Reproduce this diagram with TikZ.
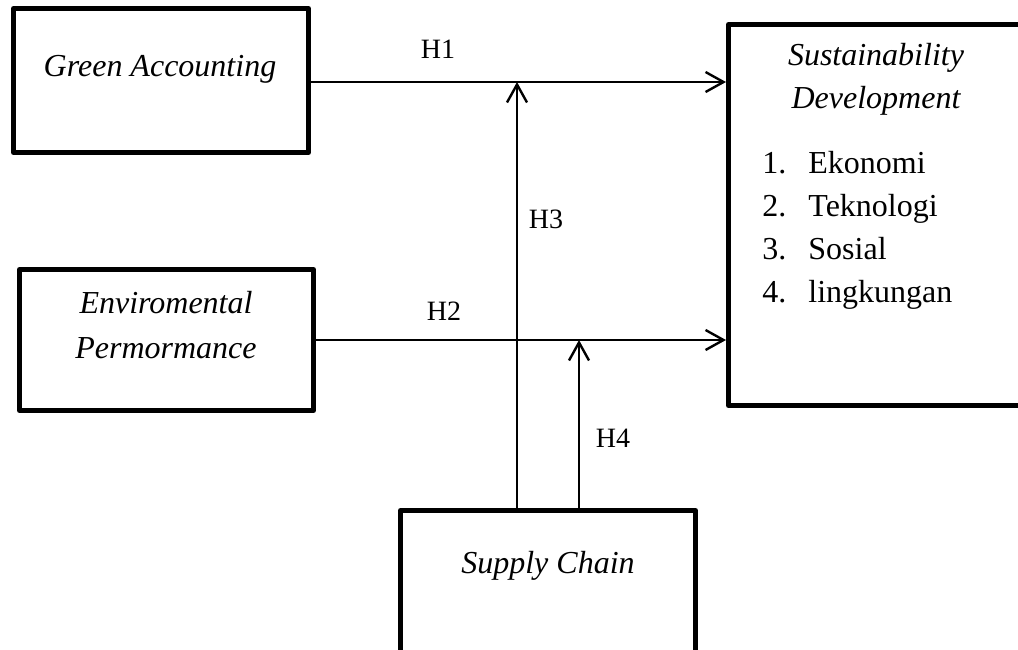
\documentclass[tikz,border=0pt]{standalone}
\usepackage{fontspec}
\setmainfont{Liberation Serif}
\usetikzlibrary{arrows.meta,calc}
\begin{document}
\begin{tikzpicture}[x=0.5pt,y=-0.5pt,
  box/.style={draw, line width=2.5pt, line join=round, inner sep=0pt},
  ttl/.style={font=\fontsize{16}{19}\selectfont\itshape, inner sep=0pt},
  lst/.style={font=\fontsize{16}{19}\selectfont, inner sep=0pt},
  hl/.style={font=\fontsize{14}{17}\selectfont, inner sep=0pt},
  arr/.style={line width=1.2pt, -{Straight Barb[length=9pt,width=10pt,line width=1.2pt]}}]
\path[use as bounding box, clip] (0,0) rectangle (1018,649);
\fill[white] (0,0) rectangle (1018,649);
% boxes
\node[box, minimum width=147.5pt, minimum height=72pt] (ga) at (161,80.5) {};
\node[box, minimum width=155.75pt, minimum height=190.5pt] (sd) at (884.25,215) {};
\node[box, minimum width=147pt, minimum height=70.5pt] (ev) at (166.5,340) {};
\node[box, minimum width=147.5pt, minimum height=74.75pt] (sc) at (548,585.25) {};
% box texts
\node[ttl, anchor=base] (gat) at (160,76) {Green Accounting};
\node[ttl, anchor=base] (sdt1) at (876,65) {Sustainability};
\node[ttl, anchor=base] (sdt2) at (876,108) {Development};
\node[ttl, anchor=base] (evt1) at (166,313) {Enviromental};
\node[ttl, anchor=base] (evt2) at (166,358) {Permormance};
\node[ttl, anchor=base] (sct) at (548,573) {Supply Chain};
% list
\node[lst, anchor=base west] (n1) at (762,173) {1.};
\node[lst, anchor=base west] (l1) at (808,173) {Ekonomi};
\node[lst, anchor=base west] (n2) at (762,216) {2.};
\node[lst, anchor=base west] (l2) at (808,216) {Teknologi};
\node[lst, anchor=base west] (n3) at (762,259) {3.};
\node[lst, anchor=base west] (l3) at (808,259) {Sosial};
\node[lst, anchor=base west] (n4) at (762,302) {4.};
\node[lst, anchor=base west] (l4) at (808,302) {lingkungan};
% connectors
\draw[arr] ([yshift=-0.75pt]ga.east) -- ([yshift=-0.75pt]ga.east -| sd.west);
\draw[arr] (ev.east) -- (ev.east -| sd.west);
\coordinate (m3) at (517,82);
\coordinate (m4) at (579,340);
\draw[arr] (sc.north -| m3) -- (m3);
\draw[arr] (sc.north -| m4) -- (m4);
% labels
\node[hl, anchor=base] (h1) at (438,58) {H1};
\node[hl, anchor=base] (h3) at (546,228) {H3};
\node[hl, anchor=base] (h2) at (444,320) {H2};
\node[hl, anchor=base] (h4) at (613,447) {H4};
\end{tikzpicture}
\end{document}
